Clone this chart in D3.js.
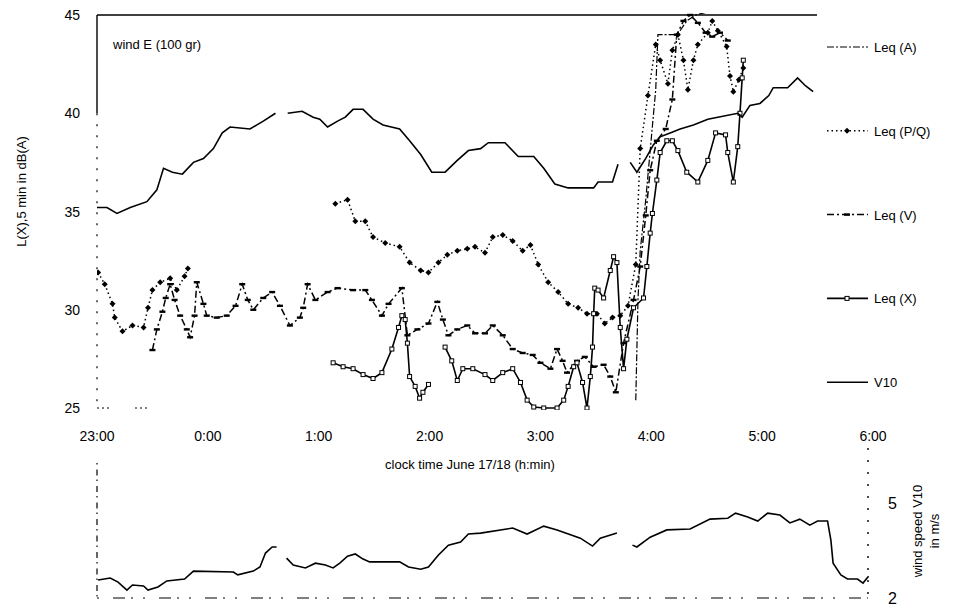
<!DOCTYPE html>
<html>
<head>
<meta charset="utf-8">
<script src="https://cdn.jsdelivr.net/npm/d3@7/dist/d3.min.js"></script>
<style>
body { margin: 0; background: #fff; }
text { font-family: "Liberation Sans", Arial, sans-serif; fill: #000; }
</style>
</head>
<body>
<div id="plot"></div>
<script>
// times are hours relative to midnight (23:00 = -1), null = gap in the record
const hourTicks = [-1, 0, 1, 2, 3, 4, 5, 6];
const levelTicks = [25, 30, 35, 40, 45];
const windTicks = [2, 5];
const seriesNames = ["Leq (A)", "Leq (P/Q)", "Leq (V)", "Leq (X)", "V10"];

const leqA = [[3.86,25.4],[3.88,30.5],[3.90,33.0],[3.95,35.6],[3.99,38.1],[4.04,41.2],[4.06,44.0],
  [4.22,44.0],[4.26,44.2],[4.32,44.7],[4.40,45.0],[4.62,45.3]];

const leqPQ = [[-0.99,31.9],[-0.93,31.3],[-0.86,30.3],[-0.84,29.6],[-0.77,28.9],[-0.68,29.2],[-0.58,29.1],
  [-0.54,30.1],[-0.50,31.0],[-0.43,31.4],[-0.34,31.6],[-0.28,31.0],[-0.21,31.7],[-0.18,32.1],[0.5,null],
  [1.15,35.4],[1.26,35.6],[1.33,34.5],[1.42,34.5],[1.49,33.7],[1.60,33.4],[1.73,33.2],[1.82,32.4],
  [1.92,32.0],[1.99,31.9],[2.08,32.4],[2.16,32.8],[2.25,33.0],[2.34,33.1],[2.41,33.2],[2.50,32.9],
  [2.57,33.7],[2.66,33.8],[2.75,33.5],[2.84,33.0],[2.91,33.3],[2.98,32.3],[3.07,31.4],[3.16,30.9],
  [3.25,30.3],[3.34,30.1],[3.42,29.8],[3.51,29.8],[3.58,29.3],[3.65,29.6],[3.72,29.7],[3.79,30.2],
  [3.86,32.3],[3.90,38.2],[3.97,40.9],[4.04,43.5],[4.08,42.7],[4.15,41.5],[4.19,43.2],[4.24,44.0],
  [4.29,42.7],[4.33,41.2],[4.38,42.7],[4.42,43.5],[4.51,44.1],[4.55,44.7],[4.60,44.2],[4.68,43.4],
  [4.71,41.9],[4.74,41.1],[4.79,41.7],[4.83,42.3]];

const leqV = [[-0.50,27.95],[-0.46,29.0],[-0.41,29.9],[-0.38,30.6],[-0.34,31.3],[-0.30,30.5],[-0.25,29.7],
  [-0.19,29.0],[-0.16,28.6],[-0.12,29.7],[-0.10,31.4],[-0.04,30.3],[-0.01,29.7],[0.08,29.6],[0.17,29.7],
  [0.25,30.2],[0.31,31.3],[0.36,30.5],[0.41,30.0],[0.50,30.6],[0.58,30.9],[0.65,30.2],[0.74,29.2],
  [0.83,29.6],[0.86,30.1],[0.90,31.3],[0.97,30.5],[1.08,30.9],[1.17,31.1],[1.31,31.0],[1.42,31.0],
  [1.48,30.5],[1.57,29.7],[1.63,30.3],[1.75,31.1],[1.80,28.7],[1.89,29.0],[1.99,29.3],[2.07,30.4],
  [2.12,29.5],[2.17,28.7],[2.25,29.0],[2.34,29.2],[2.41,28.8],[2.50,28.8],[2.57,29.2],[2.66,28.7],
  [2.75,28.0],[2.84,27.8],[2.93,27.7],[3.00,27.3],[3.09,27.0],[3.15,28.0],[3.20,27.4],[3.24,26.8],
  [3.33,27.4],[3.40,27.6],[3.48,27.1],[3.57,27.2],[3.63,26.6],[3.68,25.8],[3.75,28.3],[3.84,30.5],
  [3.90,32.2],[3.95,34.8],[3.99,37.1],[4.05,38.6],[4.13,39.2],[4.19,40.7],[4.23,44.0],[4.29,44.7],
  [4.35,45.0],[4.42,44.6],[4.49,44.1],[4.55,43.9],[4.62,44.1],[4.69,43.7]];

const leqX = [[1.13,27.3],[1.22,27.1],[1.31,27.0],[1.40,26.7],[1.49,26.5],[1.57,26.8],[1.66,28.0],
  [1.72,29.1],[1.75,29.7],[1.78,29.5],[1.80,28.3],[1.82,26.6],[1.87,26.1],[1.91,25.5],[1.94,25.8],
  [1.99,26.2],[2.06,null],[2.14,28.1],[2.20,27.4],[2.25,26.4],[2.30,27.0],[2.39,27.0],[2.50,26.7],
  [2.57,26.4],[2.66,26.8],[2.75,27.0],[2.82,26.3],[2.88,25.4],[2.94,25.05],[3.03,25.0],[3.15,25.0],
  [3.21,25.4],[3.25,26.1],[3.30,27.1],[3.33,27.3],[3.38,26.3],[3.42,25.0],[3.45,26.6],[3.47,28.1],
  [3.48,29.8],[3.49,31.1],[3.52,31.0],[3.57,30.6],[3.63,32.0],[3.66,32.7],[3.69,32.4],[3.72,29.1],
  [3.75,27.0],[3.78,28.5],[3.84,30.1],[3.93,30.6],[3.96,32.2],[3.99,33.9],[4.01,34.9],[4.05,36.6],
  [4.08,38.0],[4.14,38.6],[4.19,38.6],[4.24,38.1],[4.32,37.0],[4.42,36.5],[4.51,37.6],[4.58,39.0],
  [4.67,38.9],[4.69,38.0],[4.74,36.5],[4.78,38.3],[4.80,40.0],[4.82,41.8],[4.83,42.7]];

const v10 = [[-1.00,35.2],[-0.91,35.2],[-0.82,34.9],[-0.70,35.2],[-0.55,35.5],[-0.46,36.1],[-0.40,37.2],
  [-0.32,37.0],[-0.23,36.9],[-0.13,37.5],[-0.04,37.7],[0.05,38.2],[0.13,39.0],[0.20,39.3],[0.38,39.2],
  [0.50,39.6],[0.61,40.0],[0.66,null],[0.72,40.0],[0.85,40.1],[0.95,39.8],[1.01,39.7],[1.08,39.3],
  [1.17,39.6],[1.24,39.8],[1.31,40.2],[1.40,40.2],[1.49,39.7],[1.58,39.4],[1.73,39.2],[1.82,38.6],
  [1.92,37.9],[2.02,37.0],[2.14,37.0],[2.25,37.6],[2.35,38.1],[2.46,38.2],[2.53,38.5],[2.68,38.5],
  [2.80,37.8],[2.94,37.8],[3.03,37.2],[3.13,36.4],[3.25,36.2],[3.48,36.2],[3.52,36.5],[3.65,36.5],
  [3.70,37.4],[3.75,null],[3.81,37.5],[3.87,37.0],[3.95,37.7],[4.02,38.4],[4.08,38.8],[4.17,39.0],
  [4.26,39.2],[4.38,39.4],[4.51,39.7],[4.60,39.8],[4.78,40.0],[4.82,39.8],[4.89,40.4],[4.98,40.5],
  [5.06,40.9],[5.10,41.3],[5.23,41.3],[5.32,41.8],[5.39,41.4],[5.46,41.1]];

const windV10 = [[-0.99,2.57],[-0.88,2.63],[-0.81,2.50],[-0.73,2.25],[-0.68,2.41],[-0.58,2.38],[-0.54,2.25],
  [-0.45,2.35],[-0.37,2.54],[-0.21,2.60],[-0.13,2.85],[0.23,2.82],[0.27,2.73],[0.41,2.85],[0.47,2.98],
  [0.52,3.42],[0.58,3.61],[0.62,3.61],[0.66,null],[0.71,3.26],[0.77,3.04],[0.88,2.95],[0.97,3.10],
  [1.06,3.04],[1.13,2.95],[1.19,3.10],[1.26,3.32],[1.33,3.39],[1.40,3.23],[1.46,3.14],[1.73,3.14],
  [1.81,2.98],[1.92,2.91],[1.99,2.98],[2.08,3.36],[2.17,3.67],[2.28,3.77],[2.35,4.02],[2.46,4.05],
  [2.75,4.21],[2.88,4.02],[3.03,4.27],[3.15,4.15],[3.36,3.89],[3.47,3.64],[3.54,3.89],[3.69,4.05],
  [3.76,null],[3.83,3.67],[3.87,3.61],[3.99,3.92],[4.14,4.15],[4.35,4.18],[4.53,4.49],[4.69,4.52],
  [4.76,4.68],[4.87,4.56],[4.96,4.43],[5.05,4.68],[5.16,4.62],[5.25,4.37],[5.34,4.49],[5.43,4.30],
  [5.50,4.43],[5.59,4.43],[5.62,3.83],[5.64,3.10],[5.71,2.73],[5.77,2.60],[5.86,2.60],[5.91,2.47],
  [5.96,2.69]];

const W = 966, H = 612;
const left = 97, right = 873, frameRight = 817;

const svg = d3.select("#plot")
.append("svg")
.attr("width", W)
.attr("height", H)
.style("background", "#fff");

const x = d3.scaleLinear()
.domain([-1, 6])
.range([left, right]);

const y = d3.scaleLinear()
.domain([25, 45])
.range([408, 15]);

const yw = d3.scaleLinear()
.domain([2, 5])
.range([598, 503]);

const hourLabel = h => (h < 0 ? h + 24 : h) + ":00";

// ---------- upper panel frame ----------
svg.append("line")
.attr("x1", left).attr("x2", frameRight)
.attr("y1", y(45)).attr("y2", y(45))
.attr("stroke", "#000").attr("stroke-width", 1.6);

svg.append("line")
.attr("x1", left).attr("x2", left)
.attr("y1", y(45)).attr("y2", y(40))
.attr("stroke", "#000").attr("stroke-width", 1.4);

svg.append("line")
.attr("x1", left).attr("x2", left)
.attr("y1", y(40)).attr("y2", y(25))
.attr("stroke", "#000").attr("stroke-width", 1.2)
.attr("stroke-dasharray", "2,9");

// scan leaves only a few specks of the lower axis
svg.append("line")
.attr("x1", left).attr("x2", x(-0.5))
.attr("y1", y(25)).attr("y2", y(25))
.attr("stroke", "#000").attr("stroke-width", 1)
.attr("stroke-dasharray", "2,3,2,3,2,26");

svg.append("g")
.selectAll("text")
.data(levelTicks)
.join("text")
.attr("x", 80)
.attr("y", d => y(d) + 5)
.attr("text-anchor", "end")
.style("font-size", "14px")
.text(d => d);

svg.append("g")
.selectAll("text")
.data(hourTicks)
.join("text")
.attr("x", d => x(d))
.attr("y", 441)
.attr("text-anchor", "middle")
.style("font-size", "14px")
.text(hourLabel);

svg.append("text")
.attr("transform", `translate(26, ${y(35) - 20}) rotate(-90)`)
.attr("text-anchor", "middle")
.style("font-size", "13px")
.text("L(X),5 min in dB(A)");

svg.append("text")
.attr("x", 113)
.attr("y", 49)
.style("font-size", "13px")
.text("wind E (100 gr)");

svg.append("text")
.attr("x", 470)
.attr("y", 469)
.attr("text-anchor", "middle")
.style("font-size", "13px")
.text("clock time June 17/18 (h:min)");

// ---------- upper panel series ----------
svg.append("clipPath")
.attr("id", "clipTop")
.append("rect")
.attr("x", left).attr("y", y(45) - 2)
.attr("width", right - left).attr("height", y(25) - y(45) + 4);

const plot = svg.append("g").attr("clip-path", "url(#clipTop)");

const line = d3.line()
.defined(d => d[1] != null)
.x(d => x(d[0]))
.y(d => y(d[1]));

const series = [
  {name: seriesNames[0], data: leqA, dash: "7,2,2,2", width: 1.2, marker: "none"},
  {name: seriesNames[1], data: leqPQ, dash: "1.5,3", width: 1.5, marker: "diamond"},
  {name: seriesNames[2], data: leqV, dash: "7,3,2,3", width: 1.5, marker: "bar"},
  {name: seriesNames[3], data: leqX, dash: null, width: 1.6, marker: "square"},
  {name: seriesNames[4], data: v10, dash: null, width: 1.6, marker: "none"}
];

function drawMarker(g, type, px, py) {
  if (type == "diamond") {
    g.append("path")
    .attr("d", `M${px},${py - 3}L${px + 3},${py}L${px},${py + 3}L${px - 3},${py}Z`)
    .attr("fill", "#000");
  }
  else if (type == "square") {
    g.append("rect")
    .attr("x", px - 2).attr("y", py - 2)
    .attr("width", 4).attr("height", 4)
    .attr("fill", "#fff").attr("stroke", "#000").attr("stroke-width", 1);
  }
  else if (type == "bar") {
    g.append("rect")
    .attr("x", px - 3).attr("y", py - 1.2)
    .attr("width", 6).attr("height", 2.4)
    .attr("fill", "#000");
  }
}

series.forEach(s => {
  plot.append("path")
  .datum(s.data)
  .attr("d", line)
  .attr("fill", "none")
  .attr("stroke", "#000")
  .attr("stroke-width", s.width)
  .attr("stroke-dasharray", s.dash);

  if (s.marker != "none") {
    const mg = plot.append("g");
    s.data.filter(d => d[1] != null)
    .forEach(d => drawMarker(mg, s.marker, x(d[0]), y(d[1])));
  }
});

// ---------- legend ----------
const legend = svg.append("g");
series.forEach((s, i) => {
  const ly = 47 + i * 83.8;
  legend.append("line")
  .attr("x1", 827).attr("x2", 868)
  .attr("y1", ly).attr("y2", ly)
  .attr("stroke", "#000")
  .attr("stroke-width", s.width)
  .attr("stroke-dasharray", s.dash);
  drawMarker(legend, s.marker, 847, ly);
  legend.append("text")
  .attr("x", 874)
  .attr("y", ly + 5)
  .style("font-size", "13px")
  .text(s.name);
});

// ---------- lower panel: wind speed ----------
svg.append("line")
.attr("x1", left).attr("x2", left)
.attr("y1", 463).attr("y2", yw(2))
.attr("stroke", "#000").attr("stroke-width", 1.2)
.attr("stroke-dasharray", "1.5,5,6,4");

svg.append("line")
.attr("x1", left).attr("x2", 868)
.attr("y1", yw(2)).attr("y2", yw(2))
.attr("stroke", "#000").attr("stroke-width", 1.2)
.attr("stroke-dasharray", "2,14,12,6,2,10");

svg.append("line")
.attr("x1", 868).attr("x2", 868)
.attr("y1", 448).attr("y2", yw(2))
.attr("stroke", "#000").attr("stroke-width", 1.4)
.attr("stroke-dasharray", "2,10");

svg.append("g")
.selectAll("text")
.data(windTicks)
.join("text")
.attr("x", 888)
.attr("y", d => yw(d) + 6)
.style("font-size", "16px")
.text(d => d);

svg.append("text")
.attr("transform", "translate(922, 531) rotate(-90)")
.attr("text-anchor", "middle")
.style("font-size", "13px")
.text("wind speed V10");

svg.append("text")
.attr("transform", "translate(939, 531) rotate(-90)")
.attr("text-anchor", "middle")
.style("font-size", "13px")
.text("in m/s");

const windLine = d3.line()
.defined(d => d[1] != null)
.x(d => x(d[0]))
.y(d => yw(d[1]));

svg.append("path")
.datum(windV10)
.attr("d", windLine)
.attr("fill", "none")
.attr("stroke", "#000")
.attr("stroke-width", 1.6);
</script>
</body>
</html>
